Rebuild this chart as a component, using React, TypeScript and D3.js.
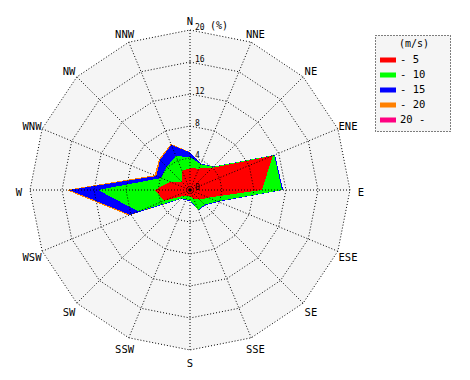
import React from "react";
import * as d3 from "d3";

const DIRECTIONS = ["N","NNE","NE","ENE","E","ESE","SE","SSE","S","SSW","SW","WSW","W","WNW","NW","NNW"];
const SPEED_CLASSES = ["- 5", "- 10", "- 15", "- 20", "20 -"];
const CLASS_COLORS = ["#ff0000", "#00ff00", "#0000ff", "#ff8000", "#ff0080"];
const RING_TICKS = [0, 4, 8, 12, 16, 20];

// frequency (%) per direction for each wind-speed class
const speed0to5 = [2.7, 2.9, 3.9, 11.2, 9.0, 2.5, 1.7, 1.2, 0.8, 0.8, 1.0, 3.5, 4.4, 2.7, 1.45, 2.6];
const speed5to10 = [1.4, 0.6, 0.2, 0.2, 2.5, 1.2, 0.9, 1.5, 0.45, 0.5, 0.5, 3.5, 7.1, 1.2, 2.65, 2.0];
const speed10to15 = [0.6, 0.1, 0.05, 0.1, 0.15, 0.15, 0.1, 0.05, 0.1, 0.1, 0.1, 1.1, 3.6, 0.65, 1.2, 1.5];
const speed15to20 = [0.05, 0, 0, 0, 0, 0, 0, 0, 0, 0, 0, 0.2, 0.35, 0.25, 0.15, 0.15];
const speedOver20 = [0, 0, 0, 0, 0, 0, 0, 0, 0, 0, 0, 0, 0, 0, 0, 0];

const SERIES = [speed0to5, speed5to10, speed10to15, speed15to20, speedOver20];

export default function App() {
  const cx = 190, cy = 190, R = 160;
  const r = d3.scaleLinear().domain([0, 20]).range([0, R]);
  const n = DIRECTIONS.length;
  const ang = (i: number) => (i * 2 * Math.PI) / n;

  const table = DIRECTIONS.map((d, i) => {
    const row: any = { dir: d };
    SPEED_CLASSES.forEach((k, j) => (row[k] = SERIES[j][i]));
    return row;
  });
  const stacked = d3.stack().keys(SPEED_CLASSES)(table);

  const radial = d3
    .lineRadial<number>()
    .angle((_, i) => ang(i))
    .radius((v) => r(v))
    .curve(d3.curveLinearClosed);

  const ringPath = (v: number) => radial(DIRECTIONS.map(() => v)) as string;

  const mono = "'DejaVu Sans Mono', monospace";

  return (
    <svg width={470} height={380} style={{ position: "absolute", left: 0, top: 0, background: "#fff" }}>
      <g transform={`translate(${cx},${cy})`}>
        <path d={ringPath(20)} fill="#f5f5f5" stroke="none" />
        {stacked
          .slice()
          .reverse()
          .map((s, k) => {
            const idx = SPEED_CLASSES.length - 1 - k;
            return (
              <path
                key={s.key}
                d={radial(s.map((p) => p[1])) as string}
                fill={CLASS_COLORS[idx]}
                shapeRendering="crispEdges"
              />
            );
          })}
        {RING_TICKS.filter((t) => t > 0).map((t) => (
          <path key={t} d={ringPath(t)} fill="none" stroke="#000" strokeWidth={1} strokeDasharray="1,2" />
        ))}
        {DIRECTIONS.map((d, i) => {
          const a = ang(i);
          return (
            <line
              key={d}
              x1={0}
              y1={0}
              x2={R * Math.sin(a)}
              y2={-R * Math.cos(a)}
              stroke="#000"
              strokeWidth={1}
              strokeDasharray="1,2"
            />
          );
        })}
        <circle r={1.8} fill="#000" />
        {RING_TICKS.map((t) => (
          <text key={t} x={5} y={-r(t)} fontFamily={mono} fontSize={8} fill="#000">
            {t}
          </text>
        ))}
        <text x={20} y={-R - 1.5} fontFamily={mono} fontSize={10} fill="#000">
          (%)
        </text>
        {DIRECTIONS.map((d, i) => {
          const a = ang(i);
          const lr = 171;
          return (
            <text
              key={d}
              x={lr * Math.sin(a)}
              y={-lr * Math.cos(a) + 5.5}
              textAnchor="middle"
              fontFamily={mono}
              fontSize={10.5}
              fill="#000"
            >
              {d}
            </text>
          );
        })}
      </g>
      <g>
        <rect x={375.5} y={35.5} width={75} height={96} fill="#f5f5f5" stroke="#000" strokeDasharray="1,2" />
        <text x={414} y={47} textAnchor="middle" fontFamily={mono} fontSize={10} fill="#000">
          (m/s)
        </text>
        {SPEED_CLASSES.map((k, i) => (
          <g key={k}>
            <rect x={380} y={57.5 + i * 15} width={16} height={5} fill={CLASS_COLORS[i]} />
            <text x={400} y={62.5 + i * 15} fontFamily={mono} fontSize={10.5} fill="#000">
              {k}
            </text>
          </g>
        ))}
      </g>
    </svg>
  );
}
